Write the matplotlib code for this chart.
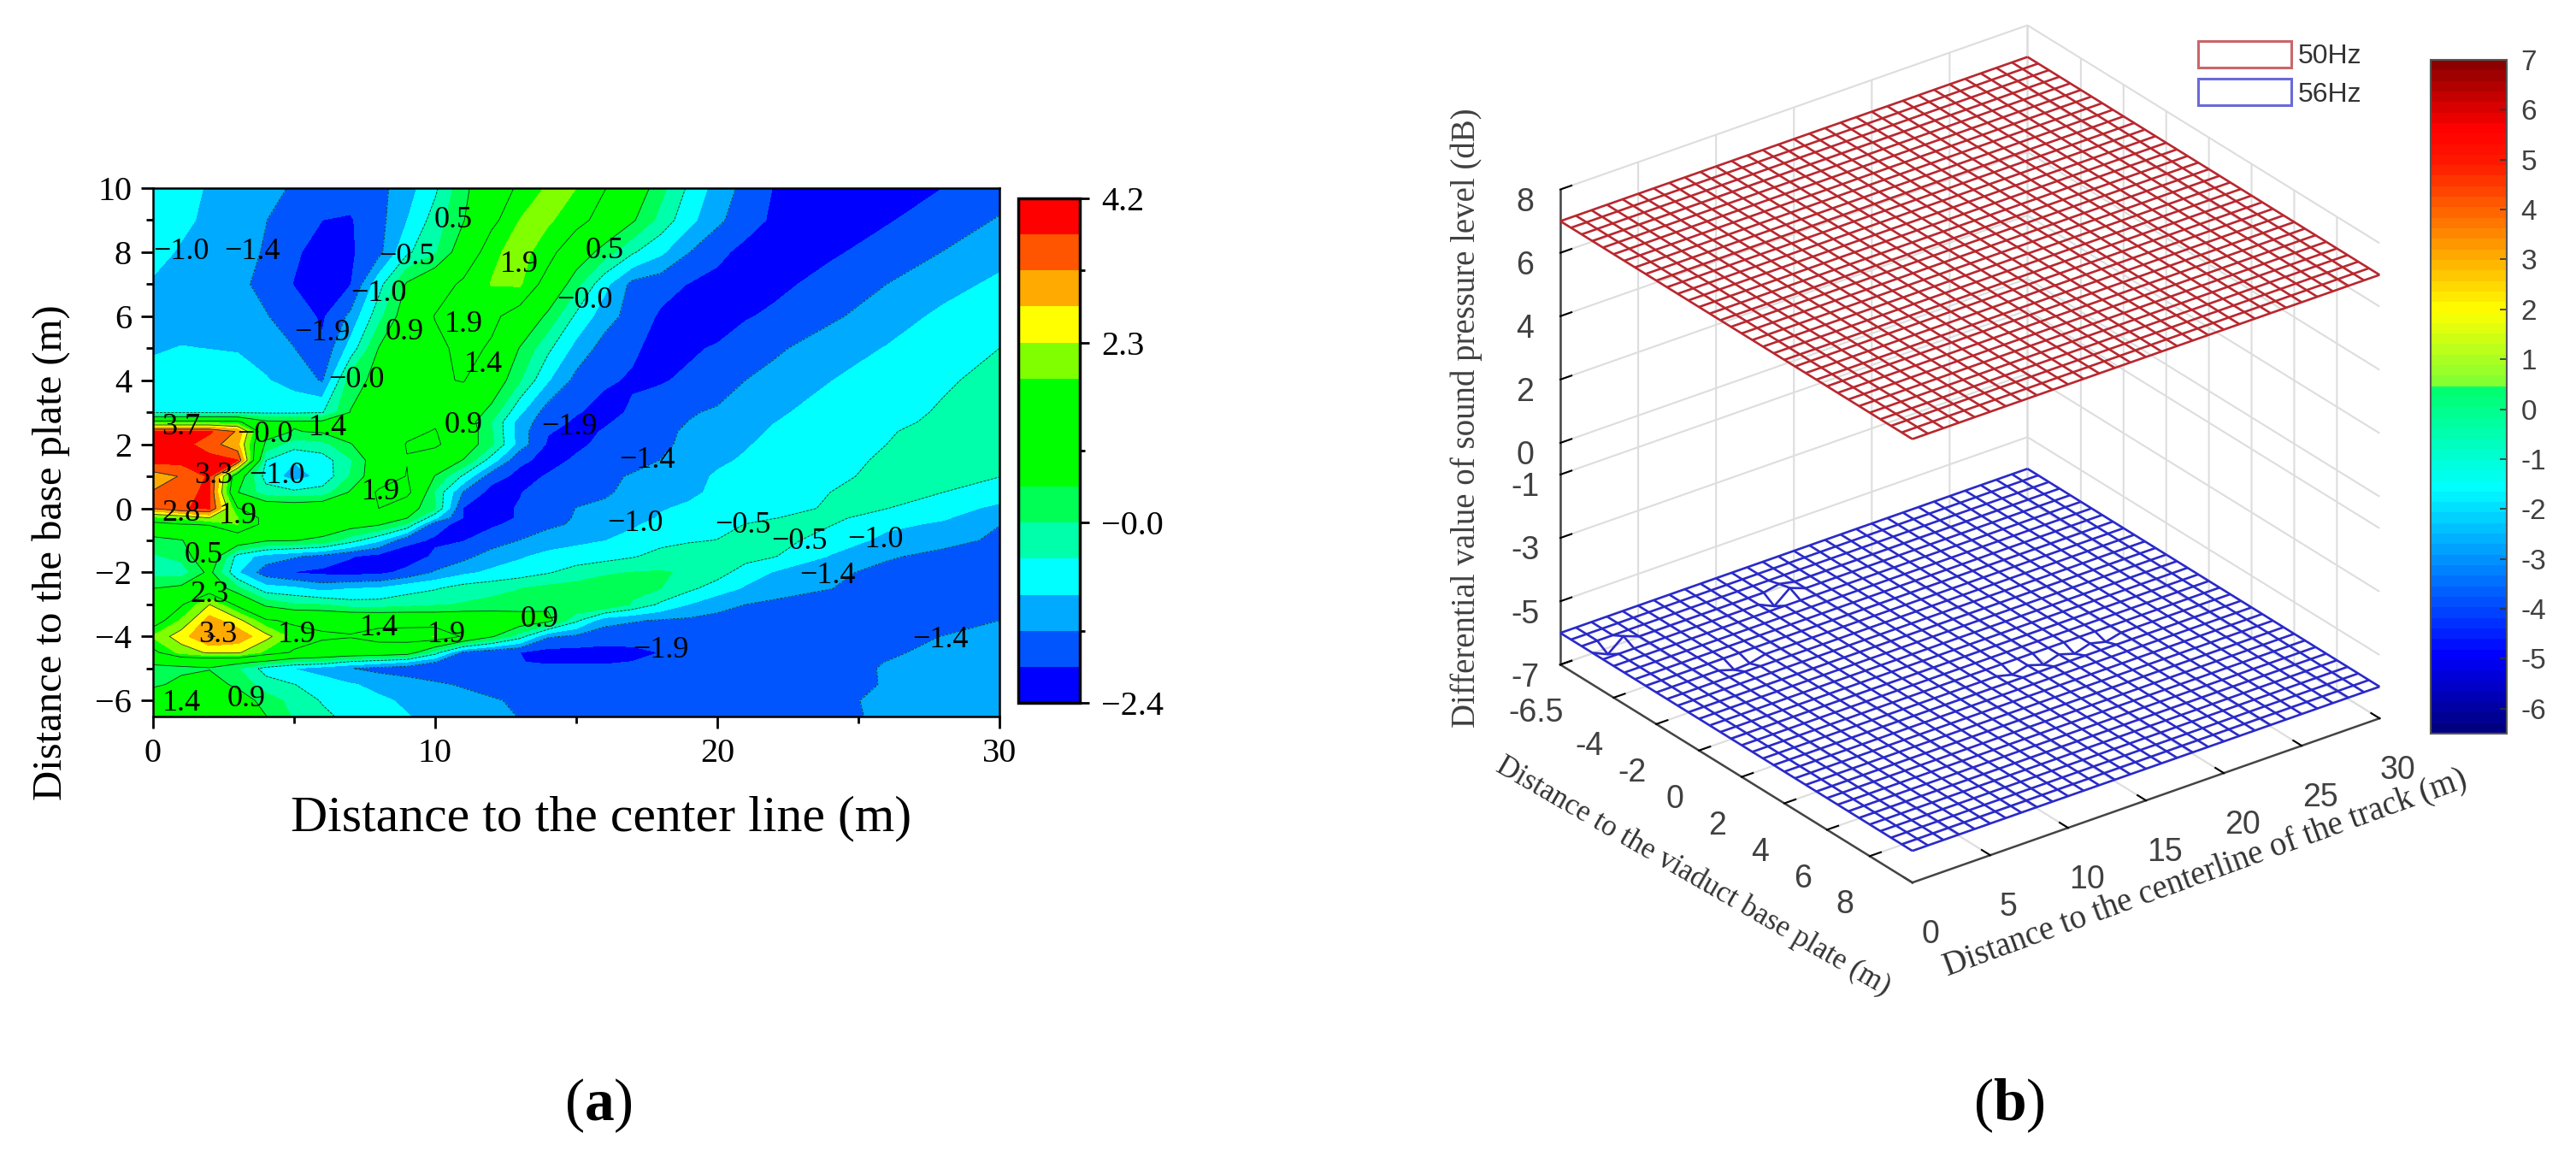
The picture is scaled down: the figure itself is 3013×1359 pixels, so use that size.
import matplotlib
matplotlib.use("Agg")
import matplotlib.pyplot as plt
import numpy as np
from matplotlib.cm import ScalarMappable
from matplotlib.colors import LinearSegmentedColormap, Normalize
from matplotlib.patches import Patch

W, H = 3013, 1359
plt.rcParams['font.family'] = ['Liberation Serif', 'DejaVu Sans']
plt.rcParams['mathtext.fontset'] = 'custom'
plt.rcParams['mathtext.rm'] = 'Liberation Serif'
plt.rcParams['mathtext.bf'] = 'Liberation Serif:bold'
plt.rcParams['axes.unicode_minus'] = False

# left panel, values
x_grid = [0, 1, 2, 3, 4, 5, 6, 7, 8, 9, 10, 11, 12, 13, 14, 15, 16, 17, 18, 19, 20, 21, 22, 24, 26, 28, 30]
y_grid = [10, 9, 8, 7, 6, 5, 4, 3, 2.7, 2.4, 2, 1.5, 1, 0.5, 0, -0.3, -0.5, -1, -1.5, -2,
          -2.5, -3, -3.5, -4, -4.5, -4.8, -5, -5.5, -6, -6.5]
z_rows = [
    [-.7, -.85, -1.03, -1.2, -1.35, -1.5, -1.65, -1.75, -1.6, -1.2, -.6, .3, .9, 1.5, 1.9, 1.84, 1.4, .9, .1, -.6, -1.2, -1.6, -1.95, -2.2, -2.1, -1.93, -1.7],
    [-.82, -.93, -1.05, -1.25, -1.45, -1.7, -1.93, -1.97, -1.62, -1.0, -.3, .4, 1.2, 1.85, 1.9, 1.6, 1.1, .5, -.2, -.85, -1.35, -1.75, -2.0, -2.2, -1.97, -1.72, -1.42],
    [-.9, -1.02, -1.15, -1.3, -1.5, -1.85, -2.15, -2.0, -1.6, -.6, -.1, .8, 1.75, 2.0, 1.6, .85, .2, -.45, -.9, -1.45, -1.83, -2.05, -2.15, -2.0, -1.75, -1.45, -1.15],
    [-1.02, -1.1, -1.2, -1.35, -1.6, -1.95, -2.1, -1.95, -.7, .5, 1.0, 1.5, 1.86, 1.9, 1.1, .1, -.85, -1.6, -1.75, -1.95, -2.05, -2.1, -2.05, -1.77, -1.46, -1.15, -.9],
    [-1.15, -1.2, -1.25, -1.3, -1.43, -1.7, -2.0, -1.35, -.2, .8, 1.4, 1.84, 1.5, 1.1, .3, -.6, -1.25, -1.65, -2.0, -2.2, -2.2, -1.97, -1.85, -1.55, -1.2, -.9, -.72],
    [-1.05, -.97, -1.0, -1.03, -1.2, -1.45, -1.85, -.8, .45, .8, 1.2, 1.55, 1.3, .4, -.4, -1.15, -1.65, -1.88, -2.05, -2.0, -1.88, -1.7, -1.55, -1.2, -.97, -.75, -.51],
    [-.8, -.75, -.7, -.75, -.95, -1.2, -1.5, .2, .6, 1, 1.3, 1.4, .9, 0, -.95, -1.6, -1.88, -1.97, -1.97, -1.85, -1.7, -1.46, -1.3, -1, -.8, -.58, -.35],
    [-.6, -.6, -.6, -.6, -.6, -.6, -.55, .45, .85, 1, 1.15, .9, .25, -.9, -1.7, -1.9, -2.05, -1.88, -1.7, -1.5, -1.4, -1.2, -1.05, -.85, -.7, -.45, -.2],
    [1.6, 1.6, 1.6, 1.5, .55, .5, .55, .7, 1, 1.1, 1.3, .8, -.05, -1.2, -1.75, -2.0, -1.98, -1.8, -1.6, -1.45, -1.3, -1.15, -1, -.82, -.62, -.42, -.2],
    [3.8, 3.8, 3.8, 3.2, .7, .4, .5, .75, 1.1, 1.25, 1.4, .9, 0, -1.25, -1.9, -2.05, -1.9, -1.72, -1.55, -1.4, -1.25, -1.1, -.95, -.78, -.55, -.35, -.15],
    [3.9, 3.9, 3.5, 2.9, .3, -.3, -.2, .4, .9, 1.4, 1.5, .85, .05, -1.2, -2.0, -2.0, -1.85, -1.7, -1.55, -1.35, -1.2, -1.02, -.9, -.7, -.51, -.3, -.15],
    [3.9, 3.9, 3.9, 3.75, -.5, -.95, -.75, -.1, .9, 1.35, .9, .4, -.75, -1.85, -2.05, -1.88, -1.75, -1.6, -1.45, -1.25, -1.05, -.95, -.85, -.6, -.47, -.28, -.3],
    [3.0, 3.3, 3.8, .8, -.7, -1.2, -.85, 0, .9, 1.4, .4, -.6, -1.75, -2.05, -1.9, -1.7, -1.55, -1.42, -1.3, -1.1, -.95, -.85, -.75, -.6, -.4, -.35, -.5],
    [3.3, 3.7, 3.75, .45, -.3, -.4, -.3, .5, 1.5, 1.6, -.1, -1.5, -2.1, -1.95, -1.75, -1.6, -1.5, -1.38, -1.25, -1.08, -.9, -.82, -.75, -.51, -.4, -.51, -.75],
    [3.3, 3.7, 3.8, 1.4, 1, .9, 1, 1.37, 1.37, .75, 0, -1.95, -2.05, -1.9, -1.7, -1.45, -1.4, -1.2, -1.02, -.92, -.8, -.75, -.7, -.45, -.5, -.8, -1.1],
    [1.7, 1.9, 2.3, 1.85, 1.2, .9, 1, 1.1, .9, .45, -.9, -1.95, -2.05, -1.9, -1.65, -1.42, -1.33, -1.15, -.95, -.82, -.72, -.62, -.52, -.4, -.75, -.95, -1.25],
    [1.2, 1.35, 1.4, 1.85, 1.2, .95, .85, .7, .5, -.1, -1.75, -2.1, -2, -1.8, -1.55, -1.4, -1.25, -1.05, -.85, -.75, -.65, -.5, -.42, -.48, -.9, -1.05, -1.45],
    [.2, .4, .9, .95, .5, .45, .3, -.3, -.9, -1.8, -2, -1.95, -1.7, -1.45, -1.25, -1.1, -1, -.85, -.65, -.55, -.5, -.4, -.3, -.75, -1.1, -1.3, -1.55],
    [-.1, .1, 1, -.7, -1.2, -1.4, -1.6, -1.9, -2.1, -2.2, -1.85, -1.6, -1.25, -1.05, -.85, -.78, -.7, -.55, -.35, -.28, -.25, -.32, -.48, -1.02, -1.4, -1.6, -1.75],
    [-.2, -.3, .6, -.95, -1.7, -1.95, -2.05, -2.1, -2.05, -1.8, -1.4, -1.1, -.9, -.75, -.55, -.3, -.1, -.03, 0, -.1, -.3, -.75, -1.02, -1.35, -1.6, -1.85, -1.9],
    [.43, .6, .95, .1, -.8, -.9, -1.15, -1, -.95, -.7, -.55, -.3, -.2, -.05, .1, .15, .2, .1, -.04, -.4, -.75, -1.05, -1.25, -1.45, -1.65, -1.85, -1.85],
    [.8, 1.3, 2.31, 1.2, .3, 0, -.05, -.3, -.3, -.2, -.1, 0, .1, .1, .3, .42, .43, -.1, -.6, -1.0, -1.3, -1.46, -1.55, -1.65, -1.8, -1.8, -1.65],
    [1, 1.9, 3, 2.5, 1.45, 1.25, 1.2, 1.2, 1.15, 1.1, 1, 1, .9, .85, .6, -.4, -1.3, -1.42, -1.5, -1.55, -1.6, -1.62, -1.65, -1.72, -1.75, -1.65, -1.46],
    [1.9, 2.6, 3.3, 3.1, 2.5, 1.65, 1.45, 1.4, 1.6, 1.7, 1.86, 1.3, .5, -.3, -1.4, -1.55, -1.7, -1.72, -1.75, -1.75, -1.75, -1.75, -1.75, -1.7, -1.6, -1.45, -1.3],
    [1.2, 2, 2.4, 2.4, 1.7, 1.3, 1.1, 1, .95, .8, -.3, -1.55, -1.8, -1.93, -2.1, -2.1, -2.1, -2.05, -1.92, -1.85, -1.8, -1.78, -1.75, -1.62, -1.55, -1.3, -1.2],
    [.6, .7, .65, .6, .3, -.1, -.2, -.6, -.8, -1, -1.45, -1.7, -1.8, -1.92, -1.97, -1.97, -1.97, -1.92, -1.85, -1.82, -1.8, -1.78, -1.75, -1.65, -1.45, -1.3, -1.2],
    [.2, .3, .4, 0, -.7, -1, -1.25, -1.44, -1.6, -1.68, -1.72, -1.75, -1.78, -1.8, -1.85, -1.85, -1.85, -1.82, -1.8, -1.79, -1.78, -1.75, -1.72, -1.65, -1.42, -1.25, -1.15],
    [.3, .6, .7, .3, -.3, -.5, -.7, -.95, -1.1, -1.25, -1.4, -1.5, -1.6, -1.75, -1.8, -1.82, -1.85, -1.82, -1.8, -1.78, -1.75, -1.73, -1.72, -1.68, -1.42, -1.2, -1.05],
    [1, 1.1, 1.2, .8, .2, -.2, -.55, -.75, -.92, -1.05, -1.2, -1.32, -1.42, -1.52, -1.6, -1.65, -1.68, -1.69, -1.7, -1.69, -1.68, -1.66, -1.65, -1.55, -1.38, -1.25, -1.15],
    [1.1, 1.2, 1.1, .9, .45, -.1, -.4, -.65, -.8, -.97, -1.1, -1.25, -1.38, -1.47, -1.55, -1.6, -1.62, -1.64, -1.65, -1.65, -1.65, -1.63, -1.62, -1.55, -1.4, -1.3, -1.2],
]
levels = [-2.4, -1.93, -1.46, -0.99, -0.51, -0.04, 0.43, 0.9, 1.37, 1.84, 2.31, 2.79, 3.26, 3.73, 4.2]
band_colors = ['#0000ff', '#0055ff', '#00aaff', '#00ffff', '#00ffaa', '#00ff55', '#00ff00', '#00ff00',
               '#00ff00', '#7fff00', '#ffff00', '#ffaa00', '#ff5500', '#ff0000']
label_x = [1, 3.5, 10.65, 9, 12.97, 16, 8, 15.3, 6, 8.9, 11, 11.7, 7.2, 1, 3.97, 6.2, 11, 14.75, 17.5, 2.15,
           4.4, 8.06, 1, 3, 17.1, 1.8, 2, 2.3, 5.1, 8, 10.4, 13.7, 1, 3.3, 20.9, 22.9, 25.6, 23.9, 18, 27.9]
label_y = [8, 8, 9, 7.85, 7.6, 8.05, 6.7, 6.5, 5.47, 5.5, 5.73, 4.49, 4, 2.53, 2.3, 2.5, 2.6, 2.53, 1.5, 1.02,
           1.02, .5, -.15, -.24, -.47, -1.47, -2.7, -3.96, -3.96, -3.73, -3.96, -3.47, -6.09, -5.96, -.53, -1.04,
           -.98, -2.1, -4.44, -4.12]
label_txt = ['−1.0', '−1.4', '0.5', '−0.5', '1.9', '0.5', '−1.0', '−0.0', '−1.9', '0.9', '1.9', '1.4', '−0.0',
             '3.7', '−0.0', '1.4', '0.9', '−1.9', '−1.4', '3.3', '−1.0', '1.9', '2.8', '1.9', '−1.0', '0.5', '2.3',
             '3.3', '1.9', '1.4', '1.9', '0.9', '1.4', '0.9', '−0.5', '−0.5', '−1.0', '−1.4', '−1.9', '−1.4']

# right panel
x_surf = np.arange(0, 31, 1.0)
y_surf = np.arange(-6.5, 10.01, 0.5)
level_50hz = 7.0
level_56hz = -6.0
bump_x = [1, 2, 11, 12, 12, 16, 18, 20, 22, 5, 6]
bump_y = [-5, -5, -4.5, -4.5, -5, 3, 3, 3, 3, -2, -2]
bump_z = [-0.22, 0.18, -0.22, 0.18, 0.1, -0.12, -0.15, -0.15, -0.12, -0.15, -0.12]
z_ticks = [8, 6, 4, 2, 0, -1, -3, -5, -7]
y_ticks = [-6.5, -4, -2, 0, 2, 4, 6, 8]
x_ticks = [0, 5, 10, 15, 20, 25, 30]
cb_ticks = list(range(-6, 8))
jet_vals = [-6.5, -5, -1.6, 0.49, 0.5, 2, 5, 5.7, 7]
jet_cols = [(0, 0, .5), (0, 0, 1), (0, 1, 1), (0, 1, .4), (.5, 1, .2), (1, 1, 0), (1, .1, 0), (1, 0, 0), (.55, 0, 0)]

fig = plt.figure(figsize=(W / 100, H / 100), dpi=100)


def px_axes(l, t, r, b, **kw):
    return fig.add_axes([l / W, 1 - b / H, (r - l) / W, (b - t) / H], **kw)


# (a) contour map
ax = px_axes(179, 220, 1169, 838)
gx = np.array(x_grid)
gy = np.array(y_grid)[::-1]
gz = np.array(z_rows)[::-1]
cf = ax.contourf(gx, gy, gz, levels=levels, colors=band_colors)
ax.contour(gx, gy, gz, levels=levels[2::2], colors='#103030', linewidths=0.6)
for lx, ly, t in zip(label_x, label_y, label_txt):
    ax.text(lx, ly, t, fontsize=26, ha='center', va='center', color='black')
ax.set_xlim(0, 30)
ax.set_ylim(-6.5, 10)
ax.set_xticks([0, 10, 20, 30])
ax.set_xticks([5, 15, 25], minor=True)
ax.set_yticks(np.arange(-6, 11, 2))
ax.set_yticks(np.arange(-5, 10, 2), minor=True)
ax.set_xticklabels(['0', '10', '20', '30'])
ax.set_yticklabels(['−6', '−4', '−2', '0', '2', '4', '6', '8', '10'])
ax.tick_params(which='major', length=10, width=2, labelsize=29, pad=8)
ax.tick_params(which='minor', length=6, width=2)
for s in ax.spines.values():
    s.set_linewidth(1.8)
fig.text(703 / W, 1 - 957 / H, 'Distance to the center line (m)', fontsize=43, ha='center', va='center')
fig.text(60 / W, 1 - 646 / H, 'Distance to the base plate (m)', fontsize=35, rotation=90, ha='center', va='center')

cax = px_axes(1191, 232, 1263, 822)
cb = fig.colorbar(cf, cax=cax)
cb.set_ticks([-2.4, -0.04, 2.31, 4.2])
cb.set_ticklabels(['−2.4', '−0.0', '2.3', '4.2'])
cb.ax.set_yticks([-1.46, 0.9, 3.26], minor=True)
cb.ax.tick_params(which='major', length=8, width=2, labelsize=29, pad=10)
cb.ax.tick_params(which='minor', length=4, width=2)
cb.outline.set_linewidth(2.5)
fig.text(700 / W, 1 - 1293 / H, r'($\mathbf{a}$)', fontsize=50, ha='center', va='center')

# (b) two wire surfaces
ax3 = px_axes(1729, -14, 2849, 1106, projection='3d', proj_type='ortho')
ax3.patch.set_alpha(0)
ax3.set_box_aspect((684, 684, 628))
ax3.view_init(elev=27.8, azim=-127)
sx, sy = np.meshgrid(x_surf, y_surf)
z50 = np.full(sx.shape, level_50hz)
z56 = np.full(sx.shape, level_56hz)
for bx, by, bz in zip(bump_x, bump_y, bump_z):
    z56[np.argmin(abs(y_surf - by)), np.argmin(abs(x_surf - bx))] += bz
ax3.plot_wireframe(sx, sy, z50, rstride=1, cstride=1, color='#b8282f', linewidth=1.9)
ax3.plot_wireframe(sx, sy, z56, rstride=1, cstride=1, color='#2a2ac8', linewidth=1.9)
ax3.set_xlim(0, 30)
ax3.set_ylim(10, -6.5)
ax3.set_zlim(-7, 8)
ax3.set_xticks(x_ticks)
ax3.set_yticks(y_ticks)
ax3.set_zticks(z_ticks)
ax3.set_xticklabels([str(v) for v in x_ticks], family='Liberation Sans')
ax3.set_yticklabels([str(v) for v in y_ticks], family='Liberation Sans')
ax3.set_zticklabels([str(v) for v in z_ticks], family='Liberation Sans')
for a in (ax3.xaxis, ax3.yaxis, ax3.zaxis):
    a.set_pane_color((1, 1, 1, 0))
    a.pane.set_edgecolor('none')
    a.line.set_color('#444444')
    a.line.set_linewidth(1.8)
    a._axinfo['grid'].update(color='#dddddd', linewidth=1.5)
    a._axinfo['tick'].update(inward_factor=0.0, outward_factor=0.3)
    a._axinfo['tick']['linewidth'] = {True: 1.5, False: 1.0}
    a._axinfo['tick']['color'] = '#444444'
ax3.tick_params(axis='both', labelsize=27, labelcolor='#404040', pad=14)
ax3.tick_params(axis='z', labelsize=27, labelcolor='#404040', pad=10)

leg_handles = [Patch(facecolor='white', edgecolor='#c9676c', linewidth=2.2, label='50Hz'),
               Patch(facecolor='white', edgecolor='#6a6ad8', linewidth=2.2, label='56Hz')]
fig.legend(handles=leg_handles, loc='upper left', bbox_to_anchor=(2571 / W, 1 - 48 / H), frameon=False,
           prop={'family': 'Liberation Sans', 'size': 23}, handlelength=3.4, handleheight=1.1,
           labelspacing=0.35, handletextpad=0.25, labelcolor='#333333', borderpad=0, borderaxespad=0)

fig.text(1715 / W, 1 - 489 / H, 'Differential value of sound pressure level (dB)', fontsize=28, rotation=90,
         ha='center', va='center', color='#404040')
fig.text(1980 / W, 1 - 1025 / H, 'Distance to the viaduct base plate (m)', fontsize=25, rotation=-30,
         rotation_mode='anchor', ha='center', va='center', color='#333333')
fig.text(2580 / W, 1 - 1022 / H, 'Distance to the centerline of the track (m)', fontsize=28, rotation=20,
         rotation_mode='anchor', ha='center', va='center', color='#333333')

cax3 = px_axes(2843, 70, 2932, 858)
pos = [(v - jet_vals[0]) / (jet_vals[-1] - jet_vals[0]) for v in jet_vals]
jet = LinearSegmentedColormap.from_list('jetish', list(zip(pos, jet_cols)), N=64)
cb3 = fig.colorbar(ScalarMappable(Normalize(-6.5, 7), jet), cax=cax3, ticks=cb_ticks)
cb3.ax.set_yticklabels([str(v) for v in cb_ticks], family='Liberation Sans', color='#404040')
cb3.ax.tick_params(direction='in', length=6, width=1.2, labelsize=24, pad=12, color='#333333')
cb3.outline.set_edgecolor('#555555')
cb3.outline.set_linewidth(1.5)
fig.text(2350 / W, 1 - 1293 / H, r'($\mathbf{b}$)', fontsize=50, ha='center', va='center')

fig.savefig('out.png', dpi=100)
